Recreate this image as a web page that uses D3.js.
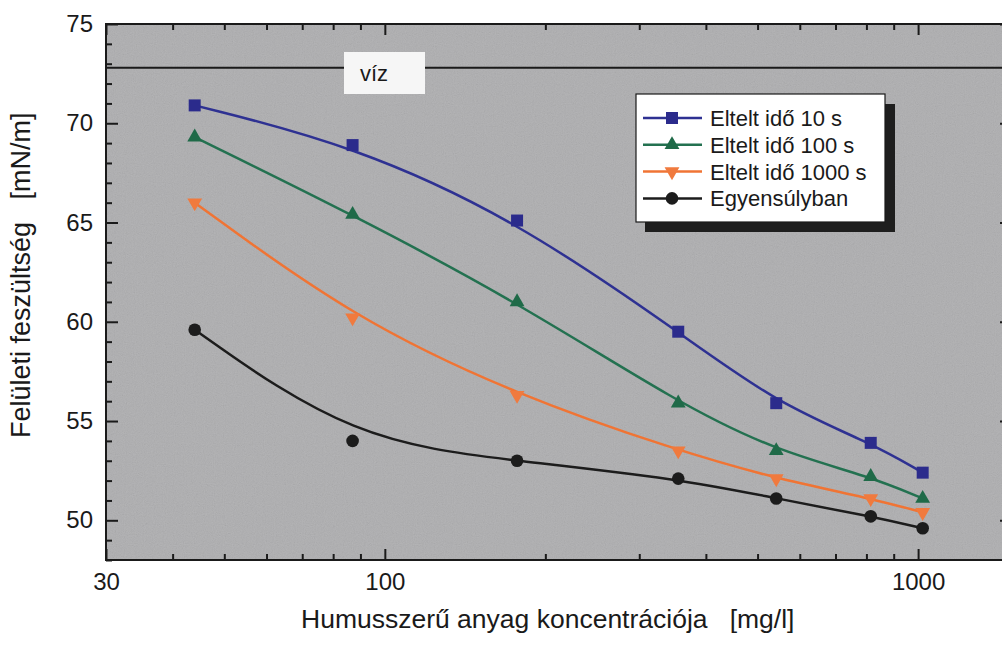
<!DOCTYPE html>
<html>
<head>
<meta charset="utf-8">
<script src="https://cdn.jsdelivr.net/npm/d3@7"></script>
<style>
  body { margin: 0; background: #ffffff; }
  svg text { font-family: "Liberation Sans", Arial, sans-serif; fill: #1a1a1a; }
</style>
</head>
<body>
<div id="chart"></div>
<script>
// humic substance concentration [mg/l]
const concentration = [44, 87, 177, 355, 542, 815, 1020];

// surface tension [mN/m] for each elapsed time
const tension10 = [70.9, 68.9, 65.1, 59.5, 55.9, 53.9, 52.4];
const tension100 = [69.3, 65.4, 61.0, 55.9, 53.5, 52.2, 51.1];
const tension1000 = [66.0, 60.2, 56.3, 53.5, 52.1, 51.1, 50.4];
const tensionEq = [59.6, 54.0, 53.0, 52.1, 51.1, 50.2, 49.6];

const seriesNames = ["Eltelt idő 10 s", "Eltelt idő 100 s", "Eltelt idő 1000 s", "Egyensúlyban"];

// pure water reference
const waterTension = 72.8;
const waterLabel = "víz";

// tick labels
const xTickLabels = [30, 100, 1000];
const yTickLabels = [50, 55, 60, 65, 70, 75];

const xTitle = "Humusszerű anyag koncentrációja\u00a0\u00a0\u00a0[mg/l]";
const yTitle = "Felületi feszültség\u00a0\u00a0\u00a0[mN/m]";

//canvas
const width = 1002;
const height = 645;
const plot = {left: 106, top: 24, right: 1012, bottom: 560};

const svg = d3.select("#chart")
  .append("svg")
  .attr("width", width)
  .attr("height", height);

//scales
const x = d3.scaleLog()
  .domain([30, 1500])
  .range([plot.left, plot.right]);

const y = d3.scaleLinear()
  .domain([48, 75])
  .range([plot.bottom, plot.top]);

//grainy gray plot background
const defs = svg.append("defs");
const grain = defs.append("filter")
  .attr("id", "grain")
  .attr("x", 0).attr("y", 0).attr("width", 1).attr("height", 1);
grain.append("feTurbulence")
  .attr("type", "fractalNoise")
  .attr("baseFrequency", 0.9)
  .attr("numOctaves", 2)
  .attr("seed", 3);
grain.append("feColorMatrix")
  .attr("type", "matrix")
  .attr("values", "0.33 0.33 0.33 0 0  0.33 0.33 0.33 0 0  0.33 0.33 0.33 0 0  0 0 0 0 0.14");

svg.append("rect")
  .attr("x", plot.left)
  .attr("y", plot.top)
  .attr("width", plot.right - plot.left)
  .attr("height", plot.bottom - plot.top)
  .attr("fill", "#adadaf");

svg.append("rect")
  .attr("x", plot.left)
  .attr("y", plot.top)
  .attr("width", plot.right - plot.left)
  .attr("height", plot.bottom - plot.top)
  .attr("filter", "url(#grain)");

//water line + label box
svg.append("line")
  .attr("x1", plot.left)
  .attr("x2", plot.right)
  .attr("y1", y(waterTension))
  .attr("y2", y(waterTension))
  .attr("stroke", "#1a1a1a")
  .attr("stroke-width", 2);

svg.append("rect")
  .attr("x", 344)
  .attr("y", 52)
  .attr("width", 81)
  .attr("height", 42)
  .attr("fill", "#f6f6f6");

svg.append("text")
  .attr("x", 360)
  .attr("y", 81)
  .attr("font-size", "22px")
  .text(waterLabel);

//axes: major ticks, minor ticks, frame
const minorX = x.ticks().filter(d => !xTickLabels.includes(d));
const minorY = d3.range(48, 76).filter(d => !yTickLabels.includes(d));

function styleAxis(g) {
  g.select(".domain").remove();
  g.selectAll("line").attr("stroke", "#1a1a1a").attr("stroke-width", 2);
  g.selectAll("text").attr("font-size", "24px").attr("fill", "#1a1a1a")
    .attr("font-family", "Liberation Sans, Arial, sans-serif");
}

svg.append("g")
  .attr("transform", `translate(0,${plot.bottom})`)
  .call(d3.axisBottom(x).tickValues(xTickLabels).tickSizeInner(-11).tickSizeOuter(0)
    .tickPadding(13).tickFormat(d3.format("d")))
  .call(styleAxis);

svg.append("g")
  .attr("transform", `translate(0,${plot.bottom})`)
  .call(d3.axisBottom(x).tickValues(minorX).tickSizeInner(-6).tickSizeOuter(0).tickFormat(""))
  .call(styleAxis);

svg.append("g")
  .attr("transform", `translate(0,${plot.top})`)
  .call(d3.axisTop(x).tickValues(xTickLabels).tickSizeInner(-11).tickSizeOuter(0).tickFormat(""))
  .call(styleAxis);

svg.append("g")
  .attr("transform", `translate(0,${plot.top})`)
  .call(d3.axisTop(x).tickValues(minorX).tickSizeInner(-6).tickSizeOuter(0).tickFormat(""))
  .call(styleAxis);

svg.append("g")
  .attr("transform", `translate(${plot.left},0)`)
  .call(d3.axisLeft(y).tickValues(yTickLabels).tickSizeInner(-12).tickSizeOuter(0).tickPadding(13))
  .call(styleAxis);

svg.append("g")
  .attr("transform", `translate(${plot.left},0)`)
  .call(d3.axisLeft(y).tickValues(minorY).tickSizeInner(-6).tickSizeOuter(0).tickFormat(""))
  .call(styleAxis);

svg.append("g")
  .attr("transform", `translate(${plot.right},0)`)
  .call(d3.axisRight(y).tickValues(yTickLabels).tickSizeInner(-12).tickSizeOuter(0).tickFormat(""))
  .call(styleAxis);

svg.append("rect")
  .attr("x", plot.left)
  .attr("y", plot.top)
  .attr("width", plot.right - plot.left)
  .attr("height", plot.bottom - plot.top)
  .attr("fill", "none")
  .attr("stroke", "#1a1a1a")
  .attr("stroke-width", 2);

//axis titles
svg.append("text")
  .attr("x", 301)
  .attr("y", 628)
  .attr("font-size", "26.5px")
  .text(xTitle);

svg.append("text")
  .attr("transform", "translate(30,438) rotate(-90)")
  .attr("font-size", "27px")
  .text(yTitle);

//series: smoothed lines + markers
const series = [
  {name: seriesNames[0], values: tension10, color: "#2e3192", marker: "#2b2b8c", symbol: d3.symbolSquare, size: 144, rotate: 0},
  {name: seriesNames[1], values: tension100, color: "#237150", marker: "#1f6a48", symbol: d3.symbolTriangle, size: 95, rotate: 0},
  {name: seriesNames[2], values: tension1000, color: "#f07434", marker: "#f07a3e", symbol: d3.symbolTriangle, size: 95, rotate: 180},
  {name: seriesNames[3], values: tensionEq, color: "#1c1c1c", marker: "#1c1c1c", symbol: d3.symbolCircle, size: 125, rotate: 0}
];

const line = d3.line()
  .x(d => x(d[0]))
  .y(d => y(d[1]))
  .curve(d3.curveBasis);

series.forEach(s => {
  const pts = concentration.map((c, i) => [c, s.values[i]]);

  svg.append("path")
    .datum(pts)
    .attr("d", line)
    .attr("fill", "none")
    .attr("stroke", s.color)
    .attr("stroke-width", 2.5);

  svg.selectAll(null)
    .data(pts)
    .enter()
    .append("path")
    .attr("d", d3.symbol().type(s.symbol).size(s.size))
    .attr("transform", d => `translate(${x(d[0])},${y(d[1])}) rotate(${s.rotate})`)
    .attr("fill", s.marker);
});

//legend box with drop shadow
const legend = svg.append("g")
  .attr("transform", "translate(636,94)");

legend.append("rect")
  .attr("x", 9)
  .attr("y", 10)
  .attr("width", 250)
  .attr("height", 128)
  .attr("fill", "#1e1e1e");

legend.append("rect")
  .attr("width", 249)
  .attr("height", 128)
  .attr("fill", "#ffffff")
  .attr("stroke", "#1a1a1a")
  .attr("stroke-width", 1.2);

const rows = legend.selectAll(".row")
  .data(series)
  .enter()
  .append("g")
  .attr("class", "row")
  .attr("transform", (d, i) => `translate(0,${24 + i * 26.8})`);

rows.append("line")
  .attr("x1", 7)
  .attr("x2", 66)
  .attr("stroke", d => d.color)
  .attr("stroke-width", 2.5);

rows.append("path")
  .attr("d", d => d3.symbol().type(d.symbol).size(d.size)())
  .attr("transform", d => `translate(36,0) rotate(${d.rotate})`)
  .attr("fill", d => d.marker);

rows.append("text")
  .attr("x", 74)
  .attr("y", 8)
  .attr("font-size", "22px")
  .text(d => d.name);
</script>
</body>
</html>
